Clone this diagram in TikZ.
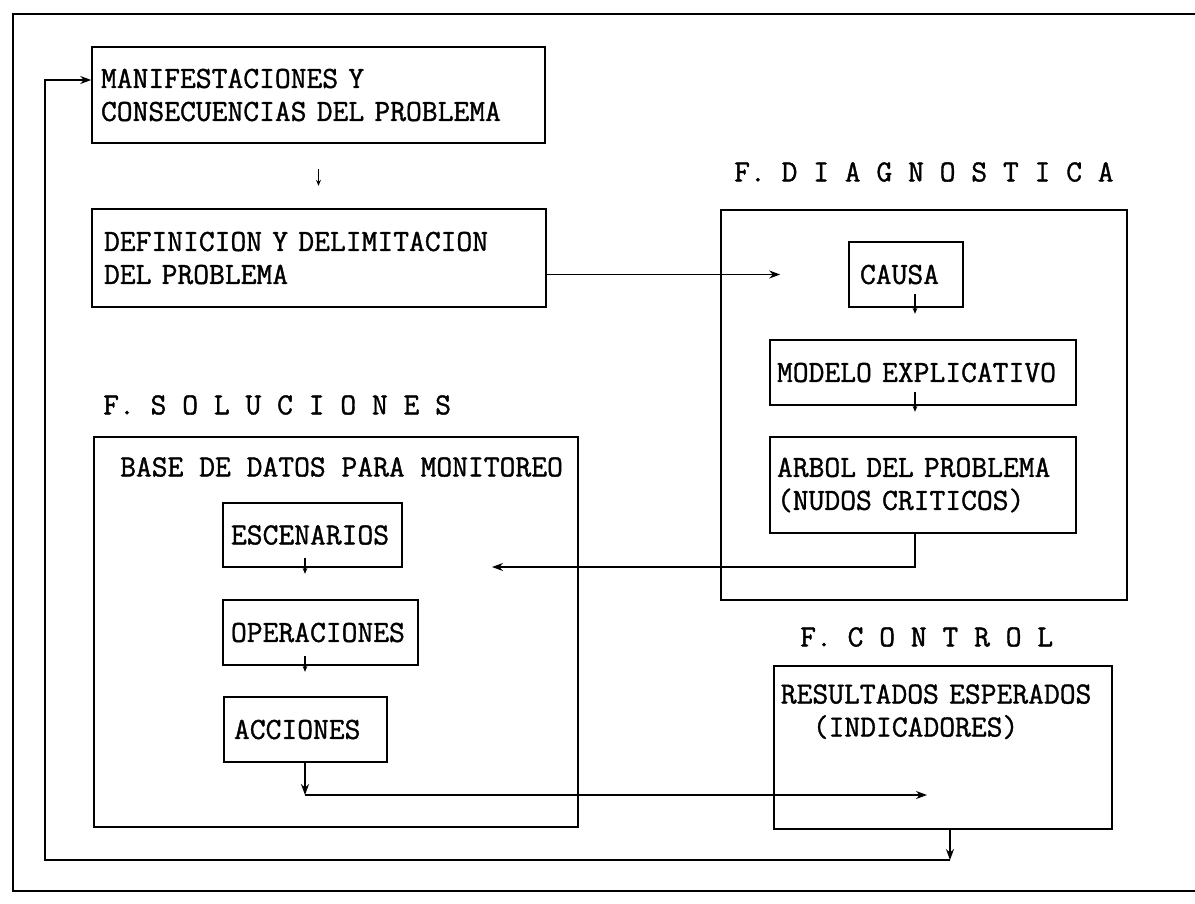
\documentclass[tikz,border=0pt]{standalone}
\usepackage{fontspec}
\setmonofont{Latin Modern Mono}[FakeBold=1.2]
\usetikzlibrary{arrows.meta}

\tikzset{
	caja/.style={draw, line width=1.6pt, inner sep=0pt, align=left, font=\ttfamily\fontsize{30.7}{33}\selectfont},
	titulo/.style={inner sep=0pt, anchor=west, font=\ttfamily\fontsize{30.7}{33}\selectfont},
	flecha/.style={line width=1.3pt, -{Stealth[length=11pt,width=8pt]}},
	flechita/.style={line width=1.2pt, -{Stealth[length=6pt,width=5pt]}}
}

\begin{document}
\begin{tikzpicture}[x=1pt,y=-1pt]
			\useasboundingbox (0,0) rectangle (1195,903);
			\draw[line width=2.4pt] (1195,14) -- (13,14) -- (13,891) -- (1195,891);
			
			% problema
			\node[caja, minimum width=453pt, minimum height=96pt, text width=435pt] (manif) at (318.5,95) {MANIFESTACIONES Y\\CONSECUENCIAS DEL PROBLEMA};
			\node[caja, minimum width=454pt, minimum height=98pt, text width=430pt] (defin) at (319,258) {DEFINICION Y DELIMITACION\\DEL PROBLEMA};
			
			% fase diagnostica
			\node[titulo] (tdiag) at (734,172) {F. D I A G N O S T I C A};
			\node[caja, minimum width=406pt, minimum height=390pt] (diagnostica) at (924,405) {};
			\node[caja, minimum width=114pt, minimum height=65pt, text width=92pt] (causa) at (906,274.5) {CAUSA};
			\node[caja, minimum width=306pt, minimum height=65pt, text width=292pt] (modelo) at (923,372.5) {MODELO EXPLICATIVO};
			\node[caja, minimum width=306pt, minimum height=96pt, text width=292pt] (arbol) at (923,485) {ARBOL DEL PROBLEMA\\(NUDOS CRITICOS)};
			
			% fase soluciones
			\node[titulo] (tsol) at (103,405) {F. S O L U C I O N E S};
			\node[caja, minimum width=484pt, minimum height=390pt] (soluciones) at (336,632) {};
			\node[titulo] (tbase) at (120,467) {BASE DE DATOS PARA MONITOREO};
			\node[caja, minimum width=179pt, minimum height=64pt, text width=163pt] (escenarios) at (312.5,535) {ESCENARIOS};
			\node[caja, minimum width=195pt, minimum height=65pt, text width=179pt] (operaciones) at (320.5,632.5) {OPERACIONES};
			\node[caja, minimum width=163pt, minimum height=65pt, text width=143pt] (acciones) at (305.5,729.5) {ACCIONES};
			
			% fase control
			\node[titulo] (tcontrol) at (800,637) {F. C O N T R O L};
			\node[caja, anchor=north west, minimum width=338pt, text width=324pt, text height=37.7pt, text depth=125.3pt] (resultados) at (773,665) {RESULTADOS ESPERADOS\\\hspace*{32pt}(INDICADORES)};
			
			\coordinate (eje) at (915,0);
			\coordinate (ejeS) at (305,0);
			\coordinate (ejeR) at (950,0);
			\coordinate (izq) at (45,0);
			\coordinate (entrada) at (492,567);
			\coordinate (esquina) at (305,795);
			\coordinate (meta) at (927,795);
			\coordinate (retorno) at (950,860);
			
			\draw[flechita] (manif.south) ++(0,25) -- ++(0,17);
			\draw[flecha, shorten >=68pt] (defin.east |- causa.west) -- (causa.west);
			\foreach \a in {causa, modelo}
			\draw[flechita] (\a.south -| eje) ++(0,-14) -- ++(0,20);
			\draw[flecha] (arbol.south -| eje) |- (entrada);
			\foreach \a in {escenarios, operaciones}
			\draw[flechita] (\a.south -| ejeS) ++(0,-10) -- ++(0,16);
			\draw[flecha] (acciones.south -| ejeS) -- (esquina);
			\draw[flecha] (esquina) -- (meta);
			\draw[flecha] (resultados.south -| ejeR) -- (retorno);
			\draw[flecha] (retorno) -- (retorno -| izq) |- ([yshift=15pt]manif.west);
\end{tikzpicture}
\end{document}
